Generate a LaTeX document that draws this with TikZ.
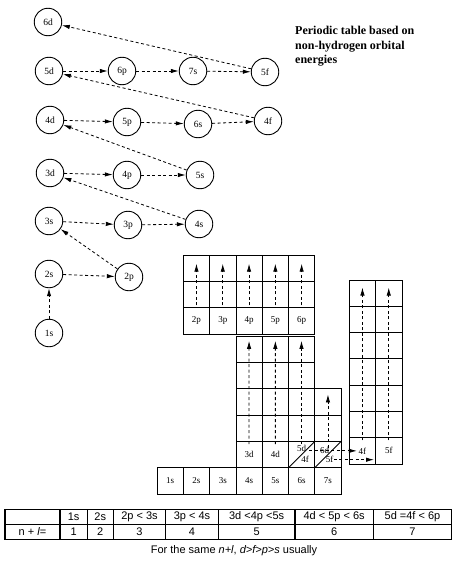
\documentclass[tikz,border=0pt]{standalone}
\usepackage{fontspec}
\setmainfont{Liberation Serif}
\setsansfont{Liberation Sans}
\usetikzlibrary{arrows.meta}
\begin{document}
\begin{tikzpicture}[x=1pt,y=-1pt,orbital node/.style={draw, circle, line width=0.9pt, minimum size=27.5pt, inner sep=0pt, font=\fontsize{9.5}{10}\selectfont},cell node/.style={draw, line width=0.8pt, minimum size=26.3pt, inner sep=0pt, font=\fontsize{9}{10}\selectfont},label node/.style={inner sep=0.5pt, font=\fontsize{9}{10}\selectfont},dash arrow/.style={line width=0.8pt, dash pattern=on 3pt off 2.5pt, -{Latex[length=8pt,width=4.4pt]}},table node/.style={draw, line width=1.1pt, minimum height=15.3pt, inner sep=0pt, font=\sffamily\fontsize{11}{12}\selectfont}]%
\path[use as bounding box] (0,0) rectangle (475,578);%
\node[anchor=north west, align=left, inner sep=0pt, font=\fontsize{12}{14.5}\selectfont\bfseries] (title) at (295,26) {Periodic table based on\\non-hydrogen orbital\\energies};%
  % Orbitals%
\node[orbital node] (o6d) at (48,22) {6d};%
\node[orbital node] (o5d) at (49,71) {5d};%
\node[orbital node] (o6p) at (122,71) {6p};%
\node[orbital node] (o7s) at (193,71) {7s};%
\node[orbital node] (o5f) at (265,72) {5f};%
\node[orbital node] (o4d) at (50,120) {4d};%
\node[orbital node] (o5p) at (127,122) {5p};%
\node[orbital node] (o6s) at (198,124) {6s};%
\node[orbital node] (o4f) at (268,121) {4f};%
\node[orbital node] (o3d) at (50,173) {3d};%
\node[orbital node] (o4p) at (127,175) {4p};%
\node[orbital node] (o5s) at (200,175) {5s};%
\node[orbital node] (o3s) at (49,221) {3s};%
\node[orbital node] (o3p) at (128,225) {3p};%
\node[orbital node] (o4s) at (199,224) {4s};%
\node[orbital node] (o2s) at (49,274) {2s};%
\node[orbital node] (o2p) at (129,277) {2p};%
\node[orbital node] (o1s) at (49,333) {1s};%
\draw[dash arrow] (o1s) -- (o2s);%
\draw[dash arrow] (o2s) -- (o2p);%
\draw[dash arrow] (o2p) -- (o3s);%
\draw[dash arrow] (o3s) -- (o3p);%
\draw[dash arrow] (o3p) -- (o4s);%
\draw[dash arrow] (o4s) -- (o3d);%
\draw[dash arrow] (o3d) -- (o4p);%
\draw[dash arrow] (o4p) -- (o5s);%
\draw[dash arrow] (o5s) -- (o4d);%
\draw[dash arrow] (o4d) -- (o5p);%
\draw[dash arrow] (o5p) -- (o6s);%
\draw[dash arrow] (o6s) -- (o4f);%
\draw[dash arrow] (o4f) -- (o5d);%
\draw[dash arrow] (o5d) -- (o6p);%
\draw[dash arrow] (o6p) -- (o7s);%
\draw[dash arrow] (o7s) -- (o5f);%
\draw[dash arrow] (o5f) -- (o6d);%
  % s block%
\foreach \i in {1,...,7}%
  \node[cell node] (s\i) at (143.85+26.3*\i,481) {\i s};%
  % p block%
\foreach \i in {2,...,6} {%
  \node[cell node] (p\i-0) at (143.85+26.3*\i,320.85) {\i p};%
  \node[cell node] (p\i-1) at (143.85+26.3*\i,294.55) {};%
  \node[cell node] (p\i-2) at (143.85+26.3*\i,268.25) {};%
  \draw[dash arrow] ([yshift=2pt]p\i-0.north) -- ([yshift=-9pt]p\i-2.north);%
}%
  % d block%
\foreach \i in {4,5,6} {%
  \foreach \r in {1,...,4}%
    \node[cell node] (d\i-\r) at (143.85+26.3*\i,454.55-26.3*\r) {};%
}%
\node[cell node] (d4-0) at (249.05,454.55) {3d};%
\node[cell node] (d5-0) at (275.35,454.55) {4d};%
\node[cell node] (d6-0) at (301.65,454.55) {};%
\node[cell node] (d7-0) at (327.95,454.55) {};%
\node[cell node] (d7-1) at (327.95,428.25) {};%
\node[cell node] (d7-2) at (327.95,401.95) {};%
\draw[line width=0.8pt] (d6-0.south west) -- (d6-0.north east);%
\draw[line width=0.8pt] (d7-0.south west) -- (d7-0.north east);%
\node[label node] (l5d) at (301.5,448) {5d};%
\node[label node] (l4f) at (305,459.7) {4f};%
\node[label node] (l6d) at (324.7,450) {6d};%
\node[label node] (l5f) at (329.5,459.7) {5f};%
\draw[dash arrow] ([yshift=-3pt]d4-0.north) -- ([yshift=-5pt]d4-4.north);%
\draw[dash arrow] ([yshift=-3pt]d5-0.north) -- ([yshift=-5pt]d5-4.north);%
\draw[dash arrow] (l5d.north) -- (l5d.north |- d6-4.north) [shorten >=5pt];%
\draw[dash arrow] ([yshift=7pt]d7-0.center) -- ([yshift=-6pt]d7-2.north);%
  % f block%
\foreach \j in {1,2} {%
  \foreach \r in {1,...,6}%
    \node[cell node] (f\j-\r) at (336.15+26.3*\j,450.85-26.3*\r) {};%
}%
\node[cell node] (f1-0) at (362.45,450.85) {4f};%
\node[cell node] (f2-0) at (388.75,450.85) {5f};%
\draw[dash arrow] ([yshift=-3pt]f1-0.north) -- ([yshift=-8pt]f1-6.north);%
\draw[dash arrow] ([yshift=-3pt]f2-0.north) -- ([yshift=-8pt]f2-6.north);%
\draw[dash arrow] (l4f.north east |- f1-0.center) -- ([xshift=8pt]f1-0.west);%
\draw[dash arrow] (l5f.east) -- (l5f.east -| f1-0.east) [shorten >=2pt];%
  % n + l table%
\foreach \xa/\xb/\ta/\tb [count=\k] in {5/60/{}/{n + \textit{l}=},60/87.3/1s/1,87.3/113.3/2s/2,113.3/165.7/{2p < 3s}/3,165.7/218.3/{3p < 4s}/4,218.3/295/{3d <4p <5s}/5,295/373.3/{4d < 5p < 6s}/6,373.3/451.7/{5d =4f < 6p}/7} {%
  \node[table node, minimum width={(\xb-\xa)*1pt}] (t\k a) at ({(\xa+\xb)/2},516.75) {\ta};%
  \node[table node, minimum width={(\xb-\xa)*1pt}] (t\k b) at ({(\xa+\xb)/2},532) {\tb};%
}%
\node[font=\sffamily\fontsize{11}{12}\selectfont] (note) at (234,551) {For the same \textit{n+l}, \textit{d>f>p>s} usually};%
\end{tikzpicture}
\end{document}
